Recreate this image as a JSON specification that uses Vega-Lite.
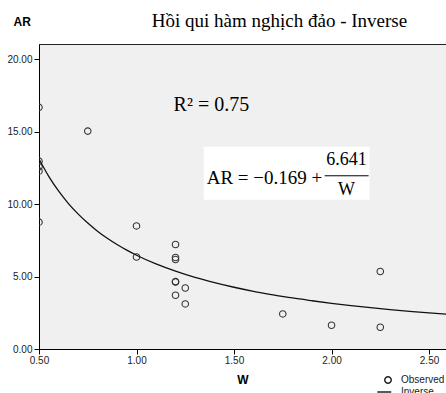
{
  "$schema": "https://vega.github.io/schema/vega-lite/v6.json",
  "width": 407,
  "height": 305,
  "autosize": {"type": "none"},
  "padding": {"left": 39, "top": 44, "right": 0, "bottom": 44},
  "background": "white",
  "config": {
    "view": {"fill": "#f0f0f0", "stroke": "#222", "strokeWidth": 1},
    "axis": {
      "domainColor": "#000",
      "tickColor": "#000",
      "labelColor": "#222",
      "labelFont": "Liberation Sans",
      "labelFontSize": 10,
      "labelFlush": false,
      "titleFont": "Liberation Sans",
      "titleFontWeight": "bold",
      "titleFontSize": 12,
      "titleColor": "#000",
      "grid": false,
      "tickSize": 5
    },
    "legend": {
      "labelFont": "Liberation Sans",
      "labelFontSize": 10,
      "labelColor": "#222"
    }
  },
  "title": {
    "text": "Hồi qui hàm nghịch đảo - Inverse",
    "font": "Liberation Serif",
    "fontSize": 19,
    "fontWeight": "normal",
    "color": "#000",
    "anchor": "middle",
    "dx": 37,
    "dy": 16,
    "offset": 0
  },
  "datasets": {
    "observed": [
      {"W": 0.5, "AR": 16.67, "series": "Observed"},
      {"W": 0.5, "AR": 12.96, "series": "Observed"},
      {"W": 0.5, "AR": 12.57, "series": "Observed"},
      {"W": 0.5, "AR": 12.27, "series": "Observed"},
      {"W": 0.5, "AR": 8.75, "series": "Observed"},
      {"W": 0.75, "AR": 15.03, "series": "Observed"},
      {"W": 1.0, "AR": 8.49, "series": "Observed"},
      {"W": 1.0, "AR": 6.35, "series": "Observed"},
      {"W": 1.2, "AR": 7.21, "series": "Observed"},
      {"W": 1.2, "AR": 6.31, "series": "Observed"},
      {"W": 1.2, "AR": 6.17, "series": "Observed"},
      {"W": 1.2, "AR": 4.65, "series": "Observed"},
      {"W": 1.2, "AR": 4.62, "series": "Observed"},
      {"W": 1.2, "AR": 3.71, "series": "Observed"},
      {"W": 1.25, "AR": 4.21, "series": "Observed"},
      {"W": 1.25, "AR": 3.11, "series": "Observed"},
      {"W": 1.75, "AR": 2.42, "series": "Observed"},
      {"W": 2.0, "AR": 1.64, "series": "Observed"},
      {"W": 2.25, "AR": 5.35, "series": "Observed"},
      {"W": 2.25, "AR": 1.5, "series": "Observed"}
    ],
    "curve": [
      {"W": 0.5, "AR": 13.11},
      {"W": 0.55, "AR": 11.91},
      {"W": 0.6, "AR": 10.90},
      {"W": 0.65, "AR": 10.05},
      {"W": 0.7, "AR": 9.32},
      {"W": 0.75, "AR": 8.69},
      {"W": 0.8, "AR": 8.13},
      {"W": 0.85, "AR": 7.64},
      {"W": 0.9, "AR": 7.21},
      {"W": 0.95, "AR": 6.82},
      {"W": 1.0, "AR": 6.47},
      {"W": 1.1, "AR": 5.87},
      {"W": 1.2, "AR": 5.37},
      {"W": 1.3, "AR": 4.94},
      {"W": 1.4, "AR": 4.58},
      {"W": 1.5, "AR": 4.26},
      {"W": 1.6, "AR": 3.98},
      {"W": 1.7, "AR": 3.74},
      {"W": 1.8, "AR": 3.52},
      {"W": 1.9, "AR": 3.33},
      {"W": 2.0, "AR": 3.15},
      {"W": 2.1, "AR": 2.99},
      {"W": 2.2, "AR": 2.85},
      {"W": 2.3, "AR": 2.72},
      {"W": 2.4, "AR": 2.60},
      {"W": 2.5, "AR": 2.49},
      {"W": 2.6, "AR": 2.39}
    ],
    "one": [{}]
  },
  "layer": [
    {
      "data": {"name": "one"},
      "mark": {"type": "rect", "fill": "white", "stroke": null},
      "encoding": {
        "x": {"datum": 1.345, "type": "quantitative"},
        "x2": {"datum": 2.195},
        "y": {"datum": 13.95, "type": "quantitative"},
        "y2": {"datum": 10.29}
      }
    },
    {
      "data": {"name": "observed"},
      "mark": {"type": "point", "filled": false, "clip": true, "size": 42, "strokeWidth": 1.1, "color": "#333", "opacity": 1},
      "encoding": {
        "x": {
          "field": "W", "type": "quantitative",
          "scale": {"domain": [0.5, 2.587], "nice": false, "zero": false},
          "axis": {"title": "W", "format": ".2f", "values": [0.5, 1, 1.5, 2, 2.5], "labelPadding": 1, "titlePadding": 9}
        },
        "y": {
          "field": "AR", "type": "quantitative",
          "scale": {"domain": [0, 21.04], "nice": false, "zero": false},
          "axis": {"title": "AR", "format": ".2f", "values": [0, 5, 10, 15, 20], "labelPadding": 2, "titleAngle": 0, "titleAlign": "left", "titleBaseline": "middle", "titleX": -26, "titleY": -23}
        },
        "shape": {
          "field": "series", "type": "nominal",
          "scale": {"domain": ["Observed", "Inverse"], "range": ["circle", "M-3.3,0H1"]},
          "legend": {"title": null, "orient": "none", "legendX": 344, "legendY": 331, "symbolSize": 42, "symbolStrokeColor": "#222", "symbolStrokeWidth": 1.5, "symbolFillColor": "transparent", "rowPadding": 0, "labelOffset": 8, "padding": 0}
        }
      }
    },
    {
      "data": {"name": "curve"},
      "mark": {"type": "line", "color": "#111", "strokeWidth": 1.3, "interpolate": "monotone", "clip": true},
      "encoding": {
        "x": {"field": "W", "type": "quantitative"},
        "y": {"field": "AR", "type": "quantitative"}
      }
    },
    {
      "data": {"name": "one"},
      "mark": {"type": "text", "text": "R² = 0.75", "font": "Liberation Serif", "fontSize": 20, "align": "left", "baseline": "alphabetic", "color": "#000"},
      "encoding": {
        "x": {"datum": 1.19, "type": "quantitative"},
        "y": {"datum": 16.44, "type": "quantitative"}
      }
    },
    {
      "data": {"name": "one"},
      "mark": {"type": "text", "text": "AR = −0.169 +", "font": "Liberation Serif", "fontSize": 19, "align": "left", "baseline": "alphabetic", "color": "#000"},
      "encoding": {
        "x": {"datum": 1.36, "type": "quantitative"},
        "y": {"datum": 11.35, "type": "quantitative"}
      }
    },
    {
      "data": {"name": "one"},
      "mark": {"type": "text", "text": "6.641", "font": "Liberation Serif", "fontSize": 18, "align": "center", "baseline": "alphabetic", "color": "#000"},
      "encoding": {
        "x": {"datum": 2.077, "type": "quantitative"},
        "y": {"datum": 12.71, "type": "quantitative"}
      }
    },
    {
      "data": {"name": "one"},
      "mark": {"type": "text", "text": "W", "font": "Liberation Serif", "fontSize": 18, "align": "center", "baseline": "alphabetic", "color": "#000"},
      "encoding": {
        "x": {"datum": 2.077, "type": "quantitative"},
        "y": {"datum": 10.6, "type": "quantitative"}
      }
    },
    {
      "data": {"name": "one"},
      "mark": {"type": "rule", "color": "#000", "strokeWidth": 1},
      "encoding": {
        "x": {"datum": 1.965, "type": "quantitative"},
        "x2": {"datum": 2.19},
        "y": {"datum": 11.95, "type": "quantitative"}
      }
    }
  ]
}
